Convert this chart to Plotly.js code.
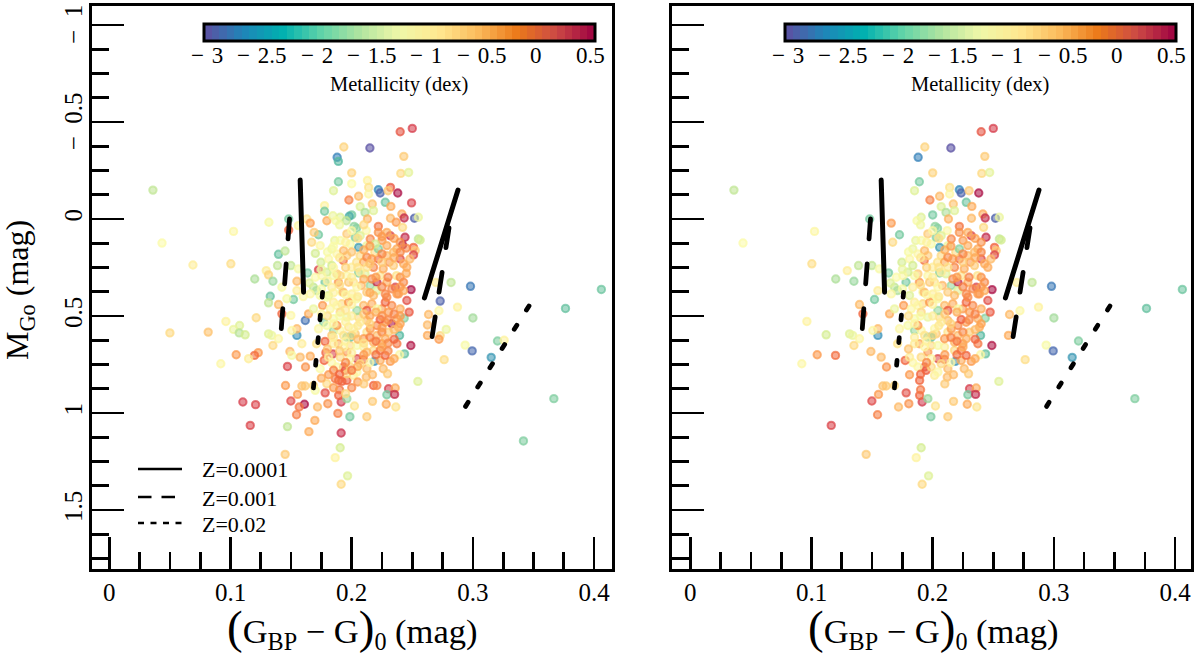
<!DOCTYPE html>
<html><head><meta charset="utf-8">
<script src="https://cdn.plot.ly/plotly-3.0.1.min.js"></script>
<style>html,body{margin:0;padding:0;background:#fff}path.js-line{stroke-linecap:round !important}</style>
</head><body><div id="chart" style="width:1200px;height:654px"></div>
<script>
// colour index (G_BP-G)_0, mag
const colorIndex=[
.250,.240,.1935,.215,.188,.189,.243,.2405,.247,.200,
.200,.189,.185,.213,.214,.222,.2235,.232,.230,.238,
.1977,.2057,.214,.2277,.217,.2323,.2494,.1776,.1776,.207,
.200,.198,.218,.211,.1795,.1845,.1905,.187,.1955,.202,
.204,.213,.212,.222,.222,.232,.2414,.2433,.2518,.255,
.2367,.242,.2318,.244,.242,.255,.251,.2524,.251,.240,
.229,.225,.2373,.248,.2455,.231,.222,.219,.222,.2125,
.2057,.186,.1905,.1726,.169,.163,.1658,.156,.1317,.1025,
.1003,.148,.148,.167,.174,.170,.1396,.145,.1388,.1498,
.1295,.1314,.120,.135,.1424,.1548,.156,.1636,.1726,.1746,
.181,.1836,.178,.1685,.171,.1658,.1548,.189,.193,.1878,
.196,.200,.207,.204,.2098,.2125,.2166,.211,.2057,.2153,
.208,.2015,.2208,.2235,.226,.2345,.237,.2428,.236,.249,
.2386,.2277,.2208,.1328,.1314,.1396,.152,.1465,.1424,.1498,
.1212,.0962,.1075,.1025,.1072,.1121,.0816,.1314,.134,.1396,
.135,.1548,.1548,.1506,.1617,.1644,.1768,.176,.1685,.185,
.196,.178,.189,.171,.1589,.149,.1506,.1047,.1229,.1198,
.1149,.092,.1658,.1575,.147,.1619,.1787,.1845,.1836,.1773,
.174,.196,.2043,.2098,.2186,.1946,.1933,.196,.1892,.1919,
.1864,.1809,.2015,.212,.2172,.226,.2296,.2318,.218,.2208,
.2304,.2359,.229,.2354,.2546,.1685,.1616,.1589,.1699,.1795,
.1781,.1454,.1553,.1498,.161,.1567,.1545,.1102,.1207,.1163,
.147,.1647,.1696,.1718,.1803,.1886,.1913,.1892,.196,.2023,
.1985,.2125,.2172,.2285,.2364,.1913,.1905,.1864,.1966,.1913,
.1451,.2488,.2436,.2395,.2395,.2373,.2331,.2433,.2474,.2455,
.2565,.282,.298,.2694,.273,.272,.2873,.2634,.2625,.2625,
.273,.272,.278,.30,.2936,.2994,.2763,.3203,.3258,.3151,
.3764,.406,.3668,.3417,.036,.0435,.069,.05,
.1836,.1878,.1933,.1988,.2029,.196,.207,.2153,.2194,.229,
.2345,.240,.2428,.229,.2249,.218,.2125,.207,.196,.1905,
.185,.1795,.1754,.1974,.2043,.2125,.2166,.229,.2331,.2428,
.2001,.1919,.1836,.1809,.174,
.1795,.185,.1919,.2001,.2098,.2166,.2249,.2331,.2373,.2276,
.2208,.2125,.2056,.1974,.1905,.1836,.1795,.2029,.2125,.2208,
.2304,.2386,.2249,.218,.2098,.1988,.1933,.185,.1809,.1878,
.1988,.2125,.2235,.2276,.2043,.196,
.2235,.2277,.2125,.2043,.193,.1974,.1878,.196,.207,.2153,
.2249,.1988,.2043,.2125,.2235,.207,.1905,.1988,.1726,.1823,
.1905,.185,.2015,.1933,.2098,.218,.2277,.1878,.2043,.218,
.229,.2373,.240,.2304,.2208,
.2,.195,.19,.2,.21,.215,.22,.225,.23,.235,
.24,.24,.235,.225,.215,.205,.195,.185,.18,.175,
.2,.205,.215,.22,.23,.235,.225,.21,.195,.185,
.18,.19,.2,.21,.22,.23,.235,.215,.205,.195,
.185,.19,.2,.205,.21,.2,.19,.185,.195,.175,
.19,.2,.21,.205,.195,.185,.18,.19,.2,.21,
.215,.225,.235,.24,.245,.235,.225,.215,.205,.195,
.185,.175,.17,.18,.19,.2,.21,.22,.23,.24,
.245,.24,.225,.215,.205,.195,.185,.175,.165,.16];
// absolute magnitude M_Go, mag
const absMag=[
-.467,-.450,-.371,-.366,-.318,-.297,-.323,-.235,-.240,-.238,
-.182,-.192,-.146,-.199,-.163,-.151,-.134,-.163,-.146,-.134,
-.098,-.117,-.129,-.086,-.077,-.065,-.083,-.069,-.040,-.064,
-.021,-.014,-.043,-.034,.009,-.017,-.009,.009,.009,.038,
.048,0,.060,.038,.069,-.004,-.026,-.005,-.004,-.009,
.017,.043,.086,.094,.134,.103,.146,.163,.185,.206,
.069,.111,.154,.206,.249,.223,.206,.172,.154,.137,
.146,.111,.111,.081,.069,0,.021,.034,.017,.064,
.231,0,.057,.120,.137,.177,.182,.165,.240,.240,
.266,.288,.309,.321,.352,.321,.257,.278,.262,.223,
.206,.240,.326,.352,.369,.386,.369,.326,.214,.283,
.189,.249,.189,.223,.223,.197,.206,.283,.278,.343,
.343,.326,.326,.292,.257,.240,.292,.326,.352,.364,
.386,.386,.369,.398,.432,.441,.415,.411,.489,.497,
.509,.528,.549,.569,.587,.597,.583,.592,.600,.617,
.652,.600,.566,.575,.523,.489,.532,.446,.463,.574,
.609,.631,.643,.643,.643,.683,.703,.700,.689,.703,
.720,.746,.707,.712,.760,.763,.689,.696,.741,.729,
.772,.686,.720,.724,.734,.780,.763,.832,.832,.837,
.823,.803,.806,.815,.803,.772,.798,.734,.858,.858,
.875,.871,.906,.904,.837,.858,.861,.861,.883,.849,
.896,.858,.904,.938,.955,.969,1.009,.943,.957,1.064,
1.070,1.096,1.038,.969,.952,1.002,.943,.909,.926,.964,
1.019,1.019,.940,.955,.969,1.103,1.179,1.230,1.324,1.367,
1.213,.652,.695,.700,.600,.643,.540,.511,.480,.420,
.108,.327,.347,.327,.423,.473,.454,.492,.546,.600,
.601,.620,.569,.510,.650,.680,.725,.629,.625,.713,
.461,.363,.926,1.144,-.149,.124,.237,.587,
.154,.180,.163,.129,.094,.077,.086,.103,.129,.137,
.171,.171,.231,.189,.223,.249,.249,.274,.292,.292,
.292,.274,.292,.326,.352,.377,.309,.326,.360,.369,
.386,.377,.352,.394,.394,
.403,.429,.437,.411,.446,.437,.463,.446,.514,.532,
.549,.523,.506,.557,.575,.600,.549,.592,.583,.600,
.583,.557,.643,.677,.660,.652,.660,.643,.712,.763,
.763,.772,.729,.703,.789,.798,
.518,.429,.472,.472,.377,.429,.446,.506,.532,.566,
.583,.609,.652,.686,.677,.746,.712,.720,.566,.463,
.480,.514,.566,.600,.617,.635,.617,.549,.411,.394,
.403,.386,.463,.480,.463,
.44,.47,.5,.5,.49,.5,.48,.5,.52,.49,
.5,.54,.57,.56,.54,.55,.53,.54,.5,.49,
.6,.62,.61,.63,.64,.62,.66,.64,.63,.61,
.67,.68,.69,.7,.7,.68,.72,.74,.76,.74,
.78,.8,.78,.84,.85,.87,.88,.87,.9,.82,
.03,.06,.03,.1,.12,.14,.17,.2,.17,.16,
.14,.09,.1,.12,.15,.2,.18,.23,.25,.25,
.25,.26,.3,.32,.34,.3,.31,.3,.3,.3,
.28,.35,.35,.38,.4,.39,.38,.36,.33,.4];
// metallicity, dex
const metallicity=[
.15,-.05,-.85,-3,-2.7,-2.3,-.8,-.9,-1.45,-.85,
-1.25,-2.1,-1.5,-1.15,-1,-2.65,-2.9,-.1,-.8,.45,
-.35,-.7,-1.2,-2.15,-.75,-.6,.1,-1.15,-2.1,-1.5,
-2.1,-2.4,-1.5,-1.8,-.6,-1.4,-1.5,-1.3,-1.7,-1.95,
-2,-.65,-1.2,-.3,-.45,-.7,-.6,.3,-2.9,-1.4,
-.5,-.9,.1,.3,.4,-1.7,-.2,-.8,.1,0,
-.6,-.5,-.6,-.7,-.6,-.5,-.2,-.9,-2,-1.4,
-2.5,-1.4,-1.3,-2.1,-.8,-1,-.5,-1.2,-1.3,-1.2,
-.95,-2.1,-.2,-.9,-1.2,-1.6,-2.2,-1.7,-1.7,-1.7,
-1.1,-.85,-1.8,-1.9,-1.3,-.7,-1.3,-2.1,.1,-1.6,
-1.2,-1.6,-2.1,-1.7,-1.8,-1.2,-1.1,-.5,-.3,-.8,
-.8,-1.1,-.9,-1,-.6,-.4,-.5,-1.5,-2,-1.9,
-.7,-1,.3,-1,-.6,-.8,-1,-.4,.1,.45,
-.5,-.4,-1.5,-2.2,-1.7,-.7,-2.1,-1.3,-.2,-1.2,
-.9,-1.15,-1.5,-1.4,-1.75,-1.6,-.75,-1.5,-1.4,-1.2,
-.9,-2.6,-.7,-1.2,-2.8,-.6,-2,-.5,-1.4,-1.9,
-2,-.2,-.6,-1,-1.1,-.7,-1.3,-.5,-.5,-.25,
-1.1,-1.2,-.6,-.7,.1,-.45,-.2,.1,-1.2,-.2,
-1.25,-.5,.05,-.2,-2.6,-.15,-.1,-.15,-.2,-.2,
-.3,-.5,-1.1,-.7,-.7,-.7,-.8,-.5,-.2,-.4,
.15,-.6,-2.1,.3,-1.5,-.9,-.8,-.75,-1.3,-.9,
0,-.5,-.5,.05,.45,-.3,-.35,.15,.1,.1,
-1.7,-.6,-.6,-.7,-.45,-.35,.2,-.2,-1.9,-1,
-2.1,-.8,-.8,-.6,-1,.25,-1.6,-1.15,-1.5,-.9,
-.8,.4,-2.2,-1.2,-2.3,-.3,.45,-2,-.1,0,
-1.6,-1.7,-2.75,-1.1,-2.9,-1.2,-1.15,-.7,-.7,-.6,
-.9,-.5,-1.4,-1.85,-1.3,-2.85,-.95,-2.05,-1.15,-2.55,
-2.2,-2.15,-2.05,-2.05,-1.7,-1.25,-1.1,-.9,
-1.4,-1.2,-.7,-1.3,-2,-.8,-1.5,-.4,-1.6,-.6,
-.7,-.4,-.6,-.7,-.8,-.4,-1,-1.1,-1.2,-.9,
-1.3,-1.6,-1.2,-.8,-1.2,-.8,-.4,-.6,-.4,-.6,
-1.1,-1.3,-1.1,-1.5,-1.3,
-1.3,-1.1,-.9,-1.2,-.7,-.6,-.5,-.4,-.6,-.5,
-.4,-.7,-.9,-1,-1.2,-.8,-1.3,-.8,-1,-.7,
-.8,-.6,-.5,-.9,-1.1,-.9,-1.2,-1.1,-1.1,-1.2,
-.9,-.7,-.6,-.2,-1.2,-.9,
-.15,-.2,-.1,-1.9,-.7,-.5,-1.2,-1.4,-1.1,-.5,
-.4,-2.2,-1.3,-.7,-.3,-.9,-.9,-1.2,-1.2,-1.2,
-.9,-1.3,-1.2,-1,-.5,-.7,-.6,-.5,-1.3,-.7,
-.4,-.5,-.6,-.5,-1.3,
-1.15,-1.05,-1.3,-1.1,-.8,-.55,-.6,-.45,-.4,-.35,
-.5,-.55,-.7,-.5,-.85,-1.05,-1.15,-1.2,-.95,-1.2,
-.9,-.7,-.35,-.3,-.4,-.2,-.6,-1,-1.15,-1.1,
-.75,-.8,-1.1,-.5,-.25,-.4,-.6,-1.2,-.6,-.4,
-.35,-.2,-.3,-.5,-.8,-.4,-.3,-.5,-.9,-.6,
-1.35,-1.2,-.9,-.95,-1.15,-1.25,-1.3,-1.05,-.75,-.6,
-.5,-.5,-.55,-.45,-.4,-.6,-.4,-.75,-1,-.85,
-1.2,-1.4,-1.25,-1.15,-.95,-1.1,-.6,-.5,-.35,-.45,
-.6,-.5,-.35,-.6,-1.05,-1.2,-1.15,-1.3,-1.5,-1.2];
// 1 where the star is also in the right panel
const inRightPanel=[
1,1,1,1,1,0,1,1,1,1,
0,1,1,0,1,1,1,0,1,1,
1,1,1,1,1,1,0,0,0,1,
1,0,1,1,0,0,1,1,0,1,
1,1,1,1,1,1,1,1,1,1,
0,1,1,1,0,1,1,1,1,1,
1,1,1,1,1,1,1,1,1,1,
1,1,1,1,0,0,1,0,0,1,
1,1,0,1,0,0,0,0,1,1,
1,0,1,1,0,0,1,1,0,1,
1,1,1,1,1,1,1,1,1,1,
1,1,1,1,1,1,1,1,1,1,
1,1,1,1,1,1,1,1,1,1,
1,1,1,0,0,1,1,0,1,0,
0,1,0,0,0,1,0,1,1,1,
1,1,1,1,0,1,0,1,1,1,
1,0,1,1,0,1,0,1,0,1,
0,1,0,1,0,1,0,0,1,1,
0,1,1,1,1,1,1,0,1,0,
0,1,1,1,1,1,1,1,0,0,
1,1,1,1,1,1,1,1,0,0,
1,0,1,1,0,0,1,0,0,1,
0,0,0,1,1,0,1,1,1,1,
1,1,1,1,1,0,1,1,1,1,
1,1,1,1,1,1,0,1,1,1,
1,1,1,1,0,1,1,1,0,1,
0,0,0,1,1,1,1,1,0,1,
1,1,1,0,1,1,0,0,
1,1,1,1,1,1,1,1,0,1,
1,1,1,1,1,1,1,1,1,0,
1,1,1,1,1,1,1,1,1,1,
1,1,1,1,0,
0,1,1,1,1,1,1,1,1,1,
1,1,1,0,1,0,1,1,1,1,
1,1,1,1,1,1,1,1,1,1,
1,1,1,1,1,0,
1,1,1,1,1,1,1,1,1,1,
1,1,1,0,1,1,1,1,1,1,
1,1,1,1,1,1,1,1,1,1,
1,1,1,1,1,
1,0,1,1,1,0,1,0,1,1,
0,1,1,0,1,1,0,1,1,0,
1,0,1,1,0,1,1,0,1,1,
1,0,0,1,1,0,1,1,0,1,
0,1,0,0,1,0,1,0,0,0,
1,1,0,1,1,0,1,1,0,1,
1,0,1,1,0,1,1,0,1,1,
0,1,1,0,1,1,0,1,1,1,
0,1,1,0,1,1,0,1,1,0];

// isochrone segments
const solidBlueX=[.1575,.1603], solidBlueY=[-.201,.377];
const solidRedX=[.2877,.260], solidRedY=[-.149,.407];
const dashBlueX=[.1487,.1418], dashBlueY=[0,.575];
const dashRedX=[.2803,.2663], dashRedY=[.046,.608];
const dotBlueX=[.176,.1682], dotBlueY=[.378,.884];
const dotRedX=[.3463,.2929], dotRedY=[.448,.976];

const barStops=['#5e4fa2','#1f85b8','#00b0b0','#60d4a8','#b0e4a0','#f0f8a8','#ffe890','#fbbb5c','#ec7a1a','#cc4a44','#9e0142'];
const markerStops=['#5e4fa2','#3288bd','#52b8a0','#8fd4a0','#d4ed90','#fcfba8','#fed880','#fda04f','#f0603c','#d53e4f','#9e0142'];
const cbTickVals=[-3,-2.5,-2,-1.5,-1,-.5,0,.5];
const cbTickText=['−\u20043','−\u20042.5','−\u20042','−\u20041.5','−\u20041','−\u20040.5','0','0.5'];
const cmin=-3.02,cmax=.53;
const SERIF='"Liberation Serif","Times New Roman",serif';

const rgb=h=>[1,3,5].map(i=>parseInt(h.substr(i,2),16));
const withAlpha=a=>markerStops.map((h,i)=>[i/(markerStops.length-1),`rgba(${rgb(h).join(',')},${a})`]);
function stepped(n){const out=[];for(let i=0;i<n;i++){const t=(i+.5)/n*(barStops.length-1),k=Math.min(Math.floor(t),barStops.length-2),f=t-k,
  a=rgb(barStops[k]),b=rgb(barStops[k+1]),c=`rgb(${a.map((v,j)=>Math.round(v+(b[j]-v)*f)).join(',')})`;out.push([i/n,c],[(i+1)/n,c]);}return out;}
const barScale=stepped(52);

function starTrace(xs,ys,zs,xa,ya){return{type:'scatter',mode:'markers',x:xs,y:ys,xaxis:xa,yaxis:ya,showlegend:false,hoverinfo:'skip',
  marker:{symbol:'circle',size:7.4,color:zs,cmin,cmax,colorscale:withAlpha(.58),showscale:false,
    line:{width:2,color:zs,cmin,cmax,colorscale:withAlpha(.72),showscale:false}}};}
function lineTrace(xs,ys,dash,w,xa,ya){return{type:'scatter',mode:'lines',x:xs,y:ys,xaxis:xa,yaxis:ya,showlegend:false,hoverinfo:'skip',line:{color:'#000',width:w,dash}};}
function cbTrace(xa,ya,cx){return{type:'scatter',mode:'markers',x:[null],y:[null],xaxis:xa,yaxis:ya,showlegend:false,hoverinfo:'skip',
  marker:{color:[0],cmin,cmax,colorscale:barScale,showscale:true,colorbar:{orientation:'h',thickness:17,thicknessmode:'pixels',len:391,lenmode:'pixels',
   x:cx/1200,xanchor:'center',y:1-24.5/654,yanchor:'top',xpad:0,ypad:0,outlinewidth:3,outlinecolor:'#000',borderwidth:0,ticks:'',showticklabels:false}}};}

const rx=colorIndex.filter((_,i)=>inRightPanel[i]),ry=absMag.filter((_,i)=>inRightPanel[i]),rz=metallicity.filter((_,i)=>inRightPanel[i]);
const isoSet=(xa,ya)=>[
 lineTrace(solidBlueX,solidBlueY,'solid',5,xa,ya),lineTrace(solidRedX,solidRedY,'solid',5,xa,ya),
 lineTrace(dashBlueX,dashBlueY,'20px,25px',4.8,xa,ya),lineTrace(dashRedX,dashRedY,'20px,25px',4.8,xa,ya),
 lineTrace(dotBlueX,dotBlueY,'4.8px,18px',4.8,xa,ya),lineTrace(dotRedX,dotRedY,'4.8px,18px',4.8,xa,ya)];

const traces=[starTrace(colorIndex,absMag,metallicity,'x','y'),starTrace(rx,ry,rz,'x2','y2'),
 ...isoSet('x','y'),...isoSet('x2','y2'),cbTrace('x','y',399.5),cbTrace('x2','y2',980.5)];

const xTickVals=[0,.1,.2,.3,.4],xTickText=['0','0.1','0.2','0.3','0.4'];
const yTickVals=[-1,-.5,0,.5,1,1.5],yTickText=['−\u20021\u2005','−\u20020.5\u2005','0','0.5','1','1.5'];
const xTitle='<span style="font-size:47px">(</span>G<sub>BP</sub> − G<span style="font-size:47px">)</span><sub>0</sub> (mag)';
function xAxis(dom,range){return{domain:dom,range,fixedrange:true,showgrid:false,zeroline:false,showline:true,mirror:true,linecolor:'#000',linewidth:3,
  ticks:'inside',ticklen:32,tickwidth:2.6,tickcolor:'#000',tickmode:'array',tickvals:xTickVals,ticktext:xTickText,tickangle:0,ticklabelstandoff:-1,ticklabeloverflow:'allow',
  tickfont:{family:SERIF,size:25,color:'#000'},minor:{dtick:.025,tick0:0,ticks:'inside',ticklen:16.5,tickwidth:2.6,tickcolor:'#000',showgrid:false}};}
function yAxis(anchor,showLabels){return{domain:[1-568.5/654,1-5.5/654],range:[1.8015,-1.1005],anchor,fixedrange:true,showgrid:false,zeroline:false,showline:true,mirror:true,linecolor:'#000',linewidth:3,
  ticks:'inside',ticklen:32,tickwidth:2.6,tickcolor:'#000',tickmode:'array',tickvals:yTickVals,ticktext:yTickText,tickangle:-90,showticklabels:showLabels,ticklabelstandoff:-3,ticklabeloverflow:'allow',
  tickfont:{family:SERIF,size:25,color:'#000'},minor:{dtick:.125,tick0:0,ticks:'inside',ticklen:16.5,tickwidth:2.6,tickcolor:'#000',showgrid:false}};}

const legRows=[['Z=0.0001','solid',469],['Z=0.001','13.5px,10px',497],['Z=0.02','6px,6.5px',523]];
const note=(px,py,text,size,extra)=>({xref:'paper',yref:'paper',x:px/1200,y:1-py/654,xanchor:'center',yanchor:'middle',showarrow:false,text,font:{family:SERIF,size,color:'#000'},...extra});
const barTickX=(v,offset)=>offset+205+(v-cmin)/(cmax-cmin)*389;
const layout={width:1200,height:654,margin:{l:0,r:0,t:0,b:0},paper_bgcolor:'#fff',plot_bgcolor:'#fff',showlegend:false,
 xaxis:{...xAxis([92.1/1200,611.5/1200],[-.01419,.41436]),anchor:'y'},
 yaxis:yAxis('x',true),
 xaxis2:{...xAxis([672.2/1200,1191/1200],[-.01493,.41312]),anchor:'y2'},
 yaxis2:yAxis('x2',false),
 shapes:legRows.map(r=>({type:'line',xref:'paper',yref:'paper',x0:138/1200,x1:182/1200,y0:1-r[2]/654,y1:1-r[2]/654,line:{color:'#000',width:2.6,dash:r[1]}})),
 annotations:[
  ...legRows.map(r=>note(200,r[2]+1,r[0],22,{xanchor:'left'})),
  ...[0,581].flatMap(off=>[
    ...cbTickVals.map((v,i)=>note(barTickX(v,off),55,cbTickText[i],23)),
    note(399+off,85,'Metallicity (dex)',20.5),
    note(352+off,628,xTitle,34.5)]),
  note(20,290,'M<sub>Go</sub> (mag)',32,{textangle:-90})
 ]
};
Plotly.newPlot('chart',traces,layout,{staticPlot:true,displayModeBar:false});
</script></body></html>
